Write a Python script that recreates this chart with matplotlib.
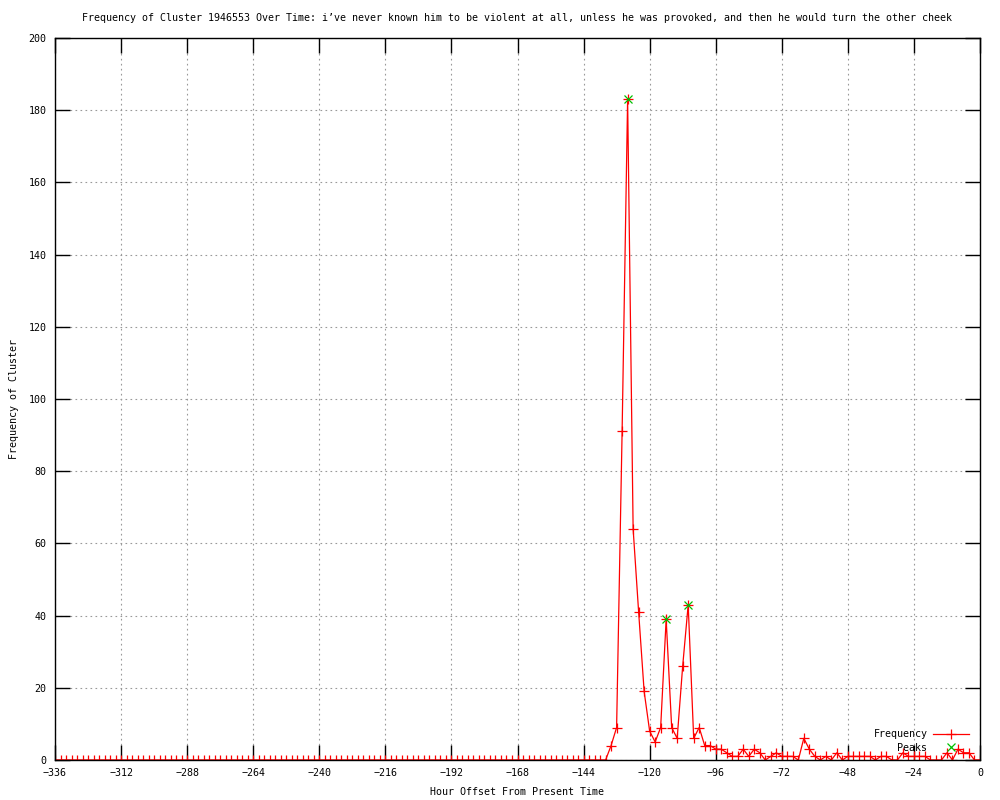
import matplotlib
matplotlib.use("Agg")
import matplotlib.pyplot as plt

# hour offsets, sampled every 2 hours
hours = list(range(-336, 1, 2))

freq = [0] * 101 + [
    4, 9, 91, 183, 64, 41, 19, 8, 5, 9,          # -134 .. -116
    39, 9, 6, 26, 43, 6, 9, 4, 4, 3,             # -114 .. -96
    3, 2, 1, 1, 3, 1, 3, 2, 0, 1,                # -94 .. -76
    2, 1, 1, 1, 0, 6, 3, 1, 0, 1,                # -74 .. -56
    0, 2, 0, 1, 1, 1, 1, 1, 0, 1,                # -54 .. -36
    1, 0, 0, 2, 1, 1, 1, 1, 0, 0,                # -34 .. -16
    0, 2, 0, 3, 2, 2, 0, 0,                      # -14 .. 0
]

peak_hours = [-128, -114, -106]
peak_vals = [183, 39, 43]

title = ("Frequency of Cluster 1946553 Over Time: i\u2019ve never known him to be "
         "violent at all, unless he was provoked, and then he would turn the other cheek")

plt.rcParams['font.family'] = ['DejaVu Sans Mono']
fs = 7.2

fig = plt.figure(figsize=(10, 8), dpi=100)
ax = fig.add_axes([0.055, 0.05, 0.925, 0.9025])

ax.plot(hours, freq, color="red", lw=0.9, marker="+", ms=7, mew=0.9, label="Frequency")
ax.plot(peak_hours, peak_vals, ls="none", color="#00c000", marker="x", ms=6, mew=0.9, label="Peaks")

ax.set_xlim(-336, 0)
ax.set_ylim(0, 200)
ax.set_xticks(range(-336, 1, 24))
ax.set_yticks(range(0, 201, 20))
ax.grid(True, color="#999999", ls=(0, (1.5, 3)), lw=0.8)
ax.tick_params(direction="in", length=11, width=1, top=True, right=True, labelsize=fs, pad=6)
for s in ax.spines.values():
    s.set_linewidth(1)

ax.set_title(title, fontsize=fs, pad=12)
ax.set_xlabel("Hour Offset From Present Time", fontsize=fs, labelpad=6)
ax.set_ylabel("Frequency of Cluster", fontsize=fs, labelpad=7)

ax.legend(loc="lower right", bbox_to_anchor=(0.994, 0.003), frameon=False, markerfirst=False,
          fontsize=fs, borderpad=0, labelspacing=0.35, handlelength=3.6, handletextpad=0.6)

fig.savefig("out.png", dpi=100)
plt.close()
